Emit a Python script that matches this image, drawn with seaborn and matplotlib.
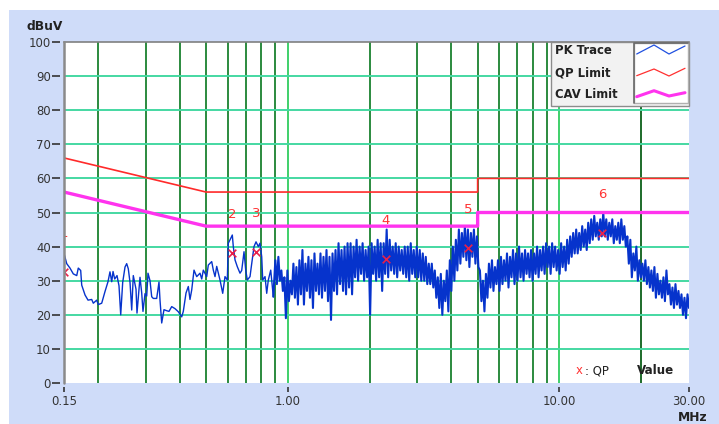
import numpy as np
import pandas as pd
import matplotlib
matplotlib.use("Agg")
import matplotlib.pyplot as plt
from matplotlib.patches import Rectangle
from matplotlib.lines import Line2D
from matplotlib.ticker import NullLocator, FixedLocator, FixedFormatter
import seaborn as sns

# ---------------- data ----------------
# PK trace, 0.15 - 0.9 MHz (MHz / dBuV)
pk_low_freq = [
    0.1500, 0.1535, 0.1578, 0.1623, 0.1671, 0.1693, 0.1728, 0.1743, 0.1793, 0.1839,
    0.1897, 0.1923, 0.1979, 0.2006, 0.2065, 0.2123, 0.2178, 0.2215, 0.2248, 0.2273,
    0.2306, 0.2351, 0.2391, 0.2426, 0.2467, 0.2516, 0.2552, 0.2587, 0.2625, 0.2663,
    0.2699, 0.2762, 0.2785, 0.2857, 0.2898, 0.2930, 0.2981, 0.3024, 0.3057, 0.3110,
    0.3155, 0.3198, 0.3291, 0.3356, 0.3385, 0.3434, 0.3501, 0.3582, 0.3653, 0.3738,
    0.3844, 0.3953, 0.4069, 0.4124, 0.4220, 0.4303, 0.4365, 0.4429, 0.4516, 0.4620,
    0.4751, 0.4821, 0.4886, 0.5029, 0.5098, 0.5247, 0.5319, 0.5396, 0.5474, 0.5629,
    0.5760, 0.5873, 0.5989, 0.6040, 0.6164, 0.6248, 0.6301, 0.6393, 0.6519, 0.6670,
    0.6766, 0.6900, 0.7000, 0.7096, 0.7260, 0.7365, 0.7510, 0.7639, 0.7789, 0.7902,
    0.8017, 0.8085, 0.8245, 0.8364, 0.8478, 0.8653, 0.8845,
]
pk_low_level = [
    38.0, 35.0, 33.7, 32.0, 31.5, 33.7, 33.0, 28.7, 25.8, 24.3,
    24.5, 23.4, 24.3, 23.0, 23.4, 26.8, 29.7, 32.6, 29.7, 32.7,
    30.5, 31.5, 28.5, 20.0, 29.5, 34.0, 35.0, 33.5, 29.5, 21.4,
    31.5, 27.5, 20.5, 31.0, 26.5, 21.0, 26.2, 25.5, 32.2, 30.0,
    25.3, 24.8, 24.8, 29.6, 24.3, 17.6, 21.5, 21.2, 21.0, 22.4,
    21.8, 20.9, 19.4, 21.0, 26.4, 28.3, 24.5, 27.3, 33.1, 31.2,
    32.2, 30.5, 33.1, 31.2, 34.6, 35.6, 33.1, 31.2, 34.2, 30.2,
    26.3, 31.2, 30.2, 41.0, 42.4, 43.4, 40.0, 36.1, 34.1, 32.2,
    33.0, 38.5, 33.1, 30.2, 31.2, 35.0, 40.0, 41.4, 40.0, 41.0,
    37.0, 30.2, 31.2, 26.3, 30.2, 33.1, 25.3,
]

# PK trace, 0.9 - 30 MHz: max / min level of each sweep bin
pk_band_upper = [
    36, 37, 33, 31, 33, 30, 35, 34, 36,
    39, 35, 37, 36, 38, 35, 38, 37, 39, 37, 38, 39, 41, 39, 40, 41,
    41, 40, 42, 40, 41, 39, 40, 41, 40, 42, 41, 41, 45, 42, 40, 41, 40, 39, 40, 40, 41, 39, 40, 39,
    38, 37, 35, 35, 33, 31, 32, 30, 33,
    36, 40, 42, 45, 44, 46, 45, 44, 45, 43,
    33, 30, 32, 35, 36, 34, 36,
    37, 36, 38, 37, 39, 38, 40, 38, 39, 38, 39, 38, 40, 39, 40, 41, 40, 41, 40, 39, 41, 40, 42,
    43, 44, 45, 44, 46, 45, 47, 48, 49, 47, 48, 50,
    48, 47, 48, 46, 47, 48, 46,
    43, 42, 38, 40, 36, 35, 36, 34, 33, 34, 32,
    30, 31, 33, 29, 28, 29, 27, 26, 25, 26,
]
pk_band_lower = [
    29, 30, 27, 19, 24, 26, 25, 23, 26,
    23, 27, 25, 22, 27, 26, 25, 27, 24, 18.5, 27, 26, 29, 27, 26, 28,
    26, 31, 30, 32, 30, 31, 20, 32, 30, 31, 27, 32, 31, 33, 32, 31, 33, 32, 31, 30, 32, 31, 31, 30,
    30, 29, 29, 28, 25, 22, 20, 24, 21,
    27, 30, 33, 35, 37, 36, 34, 37, 35, 34,
    24, 21, 25, 28, 27, 29, 27,
    29, 30, 28, 31, 29, 30, 31, 30, 32, 31, 30, 32, 31, 33, 32, 34, 32, 34, 33, 32, 34, 33, 35,
    37, 38, 38, 39, 40, 39, 41, 42, 43, 42, 43, 43,
    42, 43, 41, 42, 41, 42, 40,
    35, 31, 33, 30, 31, 30, 29, 28, 27, 25, 26,
    25, 24, 26, 23, 22, 23, 22, 20, 19, 22,
]
band_start_mhz = 0.9
band_stop_mhz = 30.0

# Limit lines
qp_limit_freq = [0.15, 0.5, 5.0, 5.0, 30.0]
qp_limit_level = [66, 56, 56, 60, 60]
cav_limit_freq = [0.15, 0.5, 5.0, 5.0, 30.0]
cav_limit_level = [56, 46, 46, 50, 50]

# QP markers
marker_ids = ["1", "2", "3", "4", "5", "6"]
marker_freq = [0.150, 0.623, 0.765, 2.30, 4.62, 14.4]
marker_qp = [32.6, 38.1, 38.5, 36.3, 39.6, 44.1]

x_tick_values = [0.15, 1.0, 10.0, 30.0]
x_tick_labels = ["0.15", "1.00", "10.00", "30.00"]
y_tick_values = [0, 10, 20, 30, 40, 50, 60, 70, 80, 90, 100]

# ---------------- assemble trace ----------------
band_freq = np.geomspace(band_start_mhz, band_stop_mhz, 2 * len(pk_band_upper))
band_level = np.column_stack([pk_band_upper, pk_band_lower]).ravel()
low_df = pd.DataFrame({"freq": pk_low_freq, "level": pk_low_level})
band_df = pd.DataFrame({
    "freq": np.concatenate([pk_low_freq[-1:], band_freq]),
    "level": np.concatenate([pk_low_level[-1:], band_level]),
})
qp_df = pd.DataFrame({"freq": qp_limit_freq, "level": qp_limit_level})
cav_df = pd.DataFrame({"freq": cav_limit_freq, "level": cav_limit_level})
mk_df = pd.DataFrame({"freq": marker_freq, "level": marker_qp, "id": marker_ids})

# ---------------- figure ----------------
sns.set_theme(style="white")
plt.rcParams["font.family"] = ["DejaVu Sans"]

W, H = 719, 424
fig = plt.figure(figsize=(W / 100, H / 100), dpi=100, facecolor="white")


def px(x, y):
    return x / W, 1 - y / H


panel = Rectangle((9 / W, 0), 1 - 9 / W, 1 - 10 / H, transform=fig.transFigure,
                  facecolor="#cfdcf9", edgecolor="none", zorder=-5)
fig.patches.append(panel)

ax = fig.add_axes([64 / W, 1 - 383 / H, 625 / W, 341 / H])
ax.set_facecolor("white")
ax.set_xscale("log")
ax.set_xlim(0.15, 30)
ax.set_ylim(0, 100)

# grid
for f in [0.2, 0.3, 0.4, 0.5, 0.6, 0.7, 0.8, 0.9, 2, 3, 4, 5, 6, 7, 8, 9]:
    ax.axvline(f, color="#2b8a3e", lw=1.4, zorder=1)
for f in [1, 10]:
    ax.axvline(f, color="#3fd06a", lw=1.4, zorder=1)
ax.axvline(20, color="#1d6b2a", lw=1.4, zorder=1)
for lvl in range(10, 100, 10):
    ax.axhline(lvl, color="#45d8a2", lw=1.4, zorder=1)

# trace and limits
trace_color = "#0633cc"
sns.lineplot(data=low_df, x="freq", y="level", sort=False, estimator=None,
             color=trace_color, linewidth=1.0, ax=ax, zorder=2)
sns.lineplot(data=band_df, x="freq", y="level", sort=False, estimator=None,
             color=trace_color, linewidth=1.5, ax=ax, zorder=2)
sns.lineplot(data=qp_df, x="freq", y="level", sort=False, estimator=None,
             color="#ff2a2a", linewidth=1.2, ax=ax, zorder=3)
sns.lineplot(data=cav_df, x="freq", y="level", sort=False, estimator=None,
             color="#ff33ee", linewidth=2.4, ax=ax, zorder=3)

# QP markers
sns.scatterplot(data=mk_df, x="freq", y="level", marker="x", s=30,
                color="#e8204a", linewidth=1.2, ax=ax, zorder=5, legend=False)
for f, v, t in zip(marker_freq, marker_qp, marker_ids):
    ax.annotate(t, (f, v), xytext=(0, 27.7), textcoords="offset points",
                ha="center", va="center", color="#ff3333", fontsize=9.5,
                clip_on=True, zorder=6)

# axes frame and ticks
for s in ["right", "bottom", "left"]:
    ax.spines[s].set_visible(False)
ax.spines["top"].set_color("#808080")
ax.spines["top"].set_linewidth(1.2)
ax.spines["left"].set_position(("outward", 3))
ax.spines["bottom"].set_position(("outward", 3))
ax.add_line(Line2D([0, 0], [0, 1], transform=ax.transAxes, color="#8a8a8a",
                   lw=1.8, clip_on=False, zorder=7))

ax.xaxis.set_major_locator(FixedLocator(x_tick_values))
ax.xaxis.set_major_formatter(FixedFormatter(x_tick_labels))
ax.xaxis.set_minor_locator(NullLocator())
ax.set_yticks(y_tick_values)
ax.tick_params(axis="y", direction="out", length=5.5, width=1.2, color="#333333",
               pad=1, labelsize=8.4, labelcolor="#333333", left=True)
ax.tick_params(axis="x", direction="out", length=3.6, width=1.2, color="#333333",
               pad=2, labelsize=8.4, labelcolor="#333333", bottom=True)
ax.set_xlabel("")
ax.set_ylabel("")

# axis captions
fig.text(*px(44.5, 26), "dBuV", ha="center", va="center", fontsize=8.8,
         fontweight="bold", color="#222222")
fig.text(*px(693, 417.5), "MHz", ha="center", va="center", fontsize=8.8,
         fontweight="bold", color="#222222")

# legend block
leg_bg = Rectangle(px(551, 106), 138 / W, 64 / H, transform=fig.transFigure,
                   facecolor="#f2f2f2", edgecolor="#8c8c8c", lw=1.0, zorder=10)
fig.patches.append(leg_bg)
sample_bg = Rectangle(px(634, 103), 54 / W, 60 / H, transform=fig.transFigure,
                      facecolor="white", edgecolor="#b0b0b0", lw=1.0, zorder=11)
fig.patches.append(sample_bg)
fig.add_artist(Line2D([634 / W, 634 / W, 688 / W], [1 - 103 / H, 1 - 43 / H, 1 - 43 / H],
                      transform=fig.transFigure, color="#6a6a6a", lw=1.2, zorder=12))

legend_rows = [
    ("PK Trace", 51, "#2050e0", 0.9, [54, 45, 54, 46]),
    ("QP Limit", 72.5, "#ff3030", 0.9, [75.7, 69, 76, 68.3]),
    ("CAV Limit", 94, "#ff33ee", 2.2, [96.7, 90.7, 96, 92.7]),
]
zig_x = [636.7, 654, 669, 685]
for label, yc, col, lw, ys in legend_rows:
    fig.text(*px(555, yc), label, ha="left", va="center", fontsize=8.4,
             fontweight="bold", color="#222222", zorder=13)
    fig.add_artist(Line2D([x / W for x in zig_x], [1 - y / H for y in ys],
                          transform=fig.transFigure, color=col, lw=lw, zorder=13))

# QP key
fig.text(*px(579, 371), "x", ha="center", va="center", fontsize=8.4, color="#ff3333")
fig.text(*px(585, 371), ": QP", ha="left", va="center", fontsize=8.4, color="#222222")
fig.text(*px(637, 371), "Value", ha="left", va="center", fontsize=8.6,
         fontweight="bold", color="#222222")

fig.savefig("out.png", dpi=100, facecolor=fig.get_facecolor())
